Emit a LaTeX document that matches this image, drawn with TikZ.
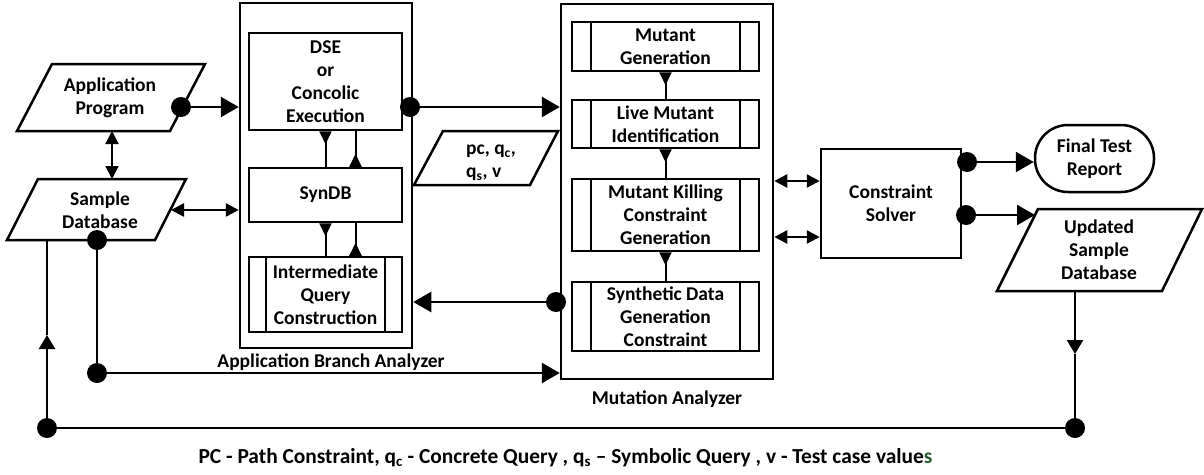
\documentclass[tikz,border=0pt]{standalone}
\usepackage{fontspec}
\setmainfont{Carlito}
\usetikzlibrary{arrows.meta,calc}
\definecolor{capgreen}{RGB}{40,90,50}
\tikzset{
  BT/.tip={Triangle[length=18pt,width=20pt]},
  DT/.tip={Triangle[length=13pt,width=13pt]},
  MT/.tip={Triangle[length=14pt,width=16pt]},
  RT/.tip={Triangle[reversed,length=13pt,width=12pt]},
  lbl/.style={font=\fontsize{19.5}{23}\selectfont\bfseries, align=center, inner sep=0pt},
  box/.style={draw, line width=2.5pt, inner sep=0pt, lbl},
  para/.style={draw, line width=2.5pt, line join=miter},
  conn/.style={line width=2.5pt},
  thin/.style={line width=2pt},
  dot/.style={circle, fill=black, minimum size=20pt, inner sep=0pt},
}
\begin{document}
\begin{tikzpicture}[x=1pt,y=-1pt]
\useasboundingbox (0,0) rectangle (1204,474);

% Application Program
\draw[para] (52,64) -- (205,64) -- (170,131) -- (17,131) -- cycle;
\node[lbl] (ap) at (110,98) {Application\\Program};
% Sample Database
\draw[para] (38,179) -- (186,179) -- (155,240) -- (7,240) -- cycle;
\node[lbl] (sdb) at (100,210) {Sample\\Database};
\coordinate (apS) at (112,131);
\coordinate (sdbN) at (112,179);
\coordinate (sdbE) at (171,210);
\coordinate (sdbS) at (47,240);

% Application Branch Analyzer
\node[box, minimum width=172pt, minimum height=345pt] (aba) at (326,175.5) {};
\node[box, minimum width=153pt, minimum height=97pt] (dse) at (325.5,81.5) {DSE\\or\\Concolic\\Execution};
\node[box, minimum width=153pt, minimum height=54pt] (syn) at (325.5,195) {SynDB};
\node[box, minimum width=153pt, minimum height=75pt] (iqc) at (325.5,294.5) {Intermediate\\Query\\Construction};
\draw[thin] ([xshift=18pt]iqc.north west) -- ([xshift=18pt]iqc.south west);
\draw[thin] ([xshift=-18pt]iqc.north east) -- ([xshift=-18pt]iqc.south east);
\node[lbl] (abal) at (331,362) {Application Branch Analyzer};

% pc parallelogram
\draw[para] (443,131) -- (558,131) -- (530,185) -- (414,185) -- cycle;
\node[lbl, align=left, anchor=west] (pcl) at (466,163) {pc, q\textsubscript{c},\\q\textsubscript{s}, v};

% Mutation Analyzer
\node[box, minimum width=212pt, minimum height=375pt] (ma) at (667,191.5) {};
\node[box, minimum width=187pt, minimum height=49pt] (mg) at (665.5,46.5) {Mutant\\Generation};
\node[box, minimum width=187pt, minimum height=48pt] (lmi) at (665.5,124) {Live Mutant\\Identification};
\node[box, minimum width=187pt, minimum height=72pt] (mkc) at (665.5,215) {Mutant Killing\\Constraint\\Generation};
\node[box, minimum width=187pt, minimum height=69pt] (sdg) at (665.5,316.5) {Synthetic Data\\Generation\\Constraint};
\foreach \n in {mg,lmi,mkc,sdg}{
  \draw[thin] ([xshift=20pt]\n.north west) -- ([xshift=20pt]\n.south west);
  \draw[thin] ([xshift=-20pt]\n.north east) -- ([xshift=-20pt]\n.south east);
}
\node[lbl] (mal) at (667,399) {Mutation Analyzer};

% Constraint Solver
\node[box, minimum width=140pt, minimum height=109pt] (cs) at (891,203.5) {Constraint\\Solver};
% Final Test Report
\node[box, rounded corners=33pt, minimum width=119pt, minimum height=67pt] (ftr) at (1094.5,158.5) {Final Test\\Report};
% Updated Sample Database
\draw[para] (1038,209) -- (1202,209) -- (1162,291) -- (997,291) -- cycle;
\node[lbl] (upd) at (1099,250) {Updated\\Sample\\Database};
\coordinate (updW) at (1035,215);
\coordinate (updS) at (1075,291);

% helper coordinates
\coordinate (y181) at (0,181);
\coordinate (y237) at (0,237);
\coordinate (midR) at (1075,354);
\coordinate (midL) at (47,335);

% dots
\node[dot] (dAP) at (181,107) {};
\node[dot] (dDSE) at (410,107) {};
\node[dot] (dSDB) at (97,240) {};
\node[dot] (dML) at (97,373) {};
\node[dot] (dMA) at (556,302) {};
\node[dot] (dCS1) at (967,162) {};
\node[dot] (dCS2) at (966,215) {};
\node[dot] (dBL) at (47,428) {};
\node[dot] (dBR) at (1075,428) {};

% connectors
\draw[conn,-BT] (dAP.center) -- (aba.west |- dAP.center);
\draw[thin,DT-DT] (apS) -- (sdbN);
\draw[conn,DT-DT] (sdbE) -- (aba.west |- sdbE);
\draw[conn,-BT] (dDSE.center) -- (ma.west |- dDSE.center);
\draw[thin,RT-] (dse.south) -- (syn.north);
\draw[thin,RT-] ([xshift=30pt]syn.north) -- ([xshift=30pt]dse.south);
\draw[thin,RT-] (syn.south) -- (iqc.north);
\draw[thin,RT-] ([xshift=30pt]iqc.north) -- ([xshift=30pt]syn.south);
\draw[thin,RT-] (mg.south) -- (lmi.north);
\draw[thin,RT-] (lmi.south) -- (mkc.north);
\draw[thin,RT-] (mkc.south) -- (sdg.north);
\draw[conn,-BT] (dMA.center) -- (aba.east |- dMA.center);
\draw[conn,DT-DT] (ma.east |- y181) -- (cs.west |- y181);
\draw[conn,DT-DT] (ma.east |- y237) -- (cs.west |- y237);
\draw[conn,-BT] (dCS1.center) -- (ftr.west |- dCS1.center);
\draw[conn,-BT] (dCS2.center) -- (updW);
\draw[conn,-MT] (updS) -- (midR);
\draw[conn] (midR) -- (dBR.center);
\draw[conn] (dBL.center) -- (dBR.center);
\draw[conn,-MT] (dBL.center) -- (midL);
\draw[conn] (midL) -- (sdbS);
\draw[conn] (dSDB.center) -- (dML.center);
\draw[conn,-BT] (dML.center) -- (ma.west |- dML.center);

% caption
\node[lbl, font=\fontsize{21.4}{25}\selectfont\bfseries, anchor=base] (cap) at (565.5,463) {PC - Path Constraint, q\textsubscript{c} - Concrete Query , q\textsubscript{s} -- Symbolic Query , v - Test case value\textcolor{capgreen}{s}};
\end{tikzpicture}
\end{document}
